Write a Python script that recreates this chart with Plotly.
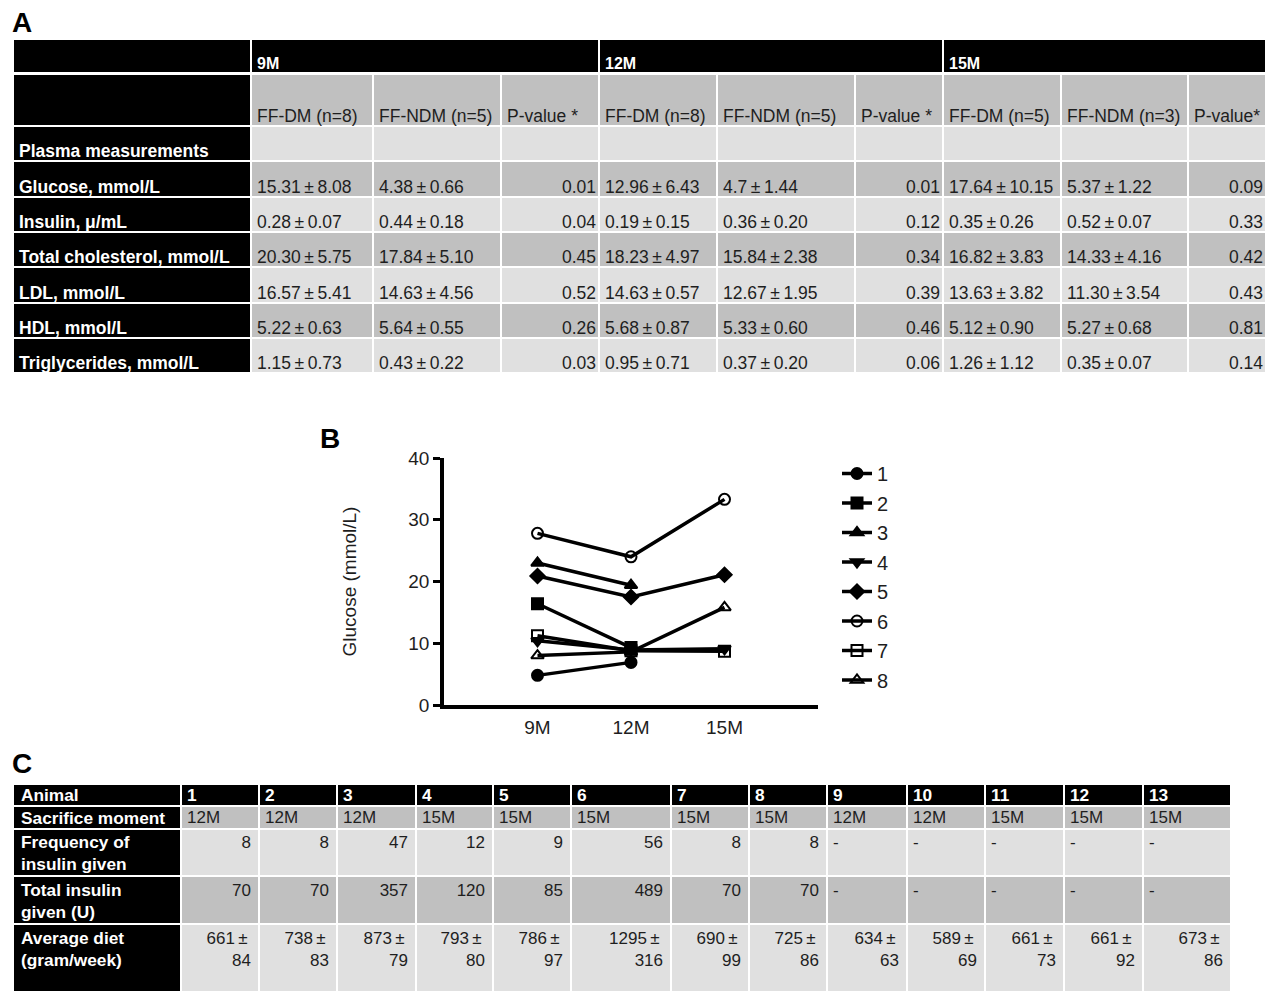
import numpy as np
import plotly.graph_objects as go

# ======================= DATA =======================
# ---- Panel A ----
group_labels = ["9M", "12M", "15M"]
sub_headers = ["FF-DM (n=8)", "FF-NDM (n=5)", "P-value *",
               "FF-DM (n=8)", "FF-NDM (n=5)", "P-value *",
               "FF-DM (n=5)", "FF-NDM (n=3)", "P-value*"]
measures = ["Plasma measurements", "Glucose, mmol/L", "Insulin, μ/mL",
            "Total cholesterol, mmol/L", "LDL, mmol/L", "HDL, mmol/L",
            "Triglycerides, mmol/L"]
dm_9m = ["", "15.31±8.08", "0.28±0.07", "20.30±5.75", "16.57±5.41", "5.22±0.63", "1.15±0.73"]
ndm_9m = ["", "4.38±0.66", "0.44±0.18", "17.84±5.10", "14.63±4.56", "5.64±0.55", "0.43±0.22"]
p_9m = ["", "0.01", "0.04", "0.45", "0.52", "0.26", "0.03"]
dm_12m = ["", "12.96±6.43", "0.19±0.15", "18.23±4.97", "14.63±0.57", "5.68±0.87", "0.95±0.71"]
ndm_12m = ["", "4.7±1.44", "0.36±0.20", "15.84±2.38", "12.67±1.95", "5.33±0.60", "0.37±0.20"]
p_12m = ["", "0.01", "0.12", "0.34", "0.39", "0.46", "0.06"]
dm_15m = ["", "17.64±10.15", "0.35±0.26", "16.82±3.83", "13.63±3.82", "5.12±0.90", "1.26±1.12"]
ndm_15m = ["", "5.37±1.22", "0.52±0.07", "14.33±4.16", "11.30±3.54", "5.27±0.68", "0.35±0.07"]
p_15m = ["", "0.09", "0.33", "0.42", "0.43", "0.81", "0.14"]

# ---- Panel B ----
timepoints = ["9M", "12M", "15M"]
animal_ids = ["1", "2", "3", "4", "5", "6", "7", "8"]
glucose = [
    [4.8, 6.9, None],
    [16.4, 9.3, None],
    [23.0, 19.4, None],
    [10.4, 8.9, 9.1],
    [20.9, 17.5, 21.1],
    [27.8, 24.0, 33.3],
    [11.2, 8.8, 8.7],
    [8.0, 8.6, 15.8],
]

# ---- Panel C ----
c_row_labels = ["Sacrifice moment", "Frequency of<br>insulin given",
                "Total insulin<br>given (U)", "Average diet<br>(gram/week)"]
animals = ["1", "2", "3", "4", "5", "6", "7", "8", "9", "10", "11", "12", "13"]
sacrifice = ["12M", "12M", "12M", "15M", "15M", "15M", "15M", "15M", "12M", "12M", "15M", "15M", "15M"]
insulin_freq = ["8", "8", "47", "12", "9", "56", "8", "8", "-", "-", "-", "-", "-"]
insulin_total = ["70", "70", "357", "120", "85", "489", "70", "70", "-", "-", "-", "-", "-"]
diet_mean = [661, 738, 873, 793, 786, 1295, 690, 725, 634, 589, 661, 661, 673]
diet_sd = [84, 83, 79, 80, 97, 316, 99, 86, 63, 69, 73, 92, 86]

# ======================= STYLE / GEOMETRY =======================
W, H = 1273, 991
BLACK, DARK, LIGHT = "#000000", "#c0c0c0", "#e0e0e0"
TXT = "#1e1e1e"
FONT = "Liberation Sans, Arial, sans-serif"
PM = "\u2009±\u2009"
CSCALE = [[0, BLACK], [0.5, DARK], [1, LIGHT]]   # 0 black, 1 dark grey, 2 light grey

# table A column widths / row heights (pixels of the page)
A_X0 = 13
a_colw = [238, 122, 128, 98, 118, 138, 88, 118, 127, 78]
a_xe = np.cumsum([A_X0] + a_colw)
a_grp_xe = [a_xe[0], a_xe[1], a_xe[4], a_xe[7], a_xe[10]]
A_GRP_Y = [40, 72]
a_row_h = [52] + [35.3] * len(measures)
a_ye = np.cumsum([74] + a_row_h)
# table C
C_X0 = 13
c_colw = [168, 78, 78, 79, 77, 78, 100, 78, 78, 80, 78, 79, 79, 88]
c_xe = np.cumsum([C_X0] + c_colw)
c_row_h = [22, 23, 47, 48, 70]
c_ye = np.cumsum([784] + c_row_h)

FS_A, FS_C = 17.5, 17.3

fig = go.Figure()


def cell_text(xs, ys, texts, positions, size, color, bold):
    fig.add_trace(go.Scatter(
        x=xs, y=ys, text=texts, mode="text", textposition=positions,
        textfont=dict(family=FONT, size=size, color=color,
                      weight="bold" if bold else "normal"),
        xaxis="x2", yaxis="y2", hoverinfo="skip", showlegend=False,
        cliponaxis=False))


# ---------------- Table A ----------------
fig.add_trace(go.Heatmap(
    x=a_grp_xe, y=A_GRP_Y, z=[[0] * 4], colorscale=CSCALE, zmin=0, zmax=2,
    showscale=False, xgap=2, hoverinfo="skip", xaxis="x2", yaxis="y2"))
data_cols_a = [dm_9m, ndm_9m, p_9m, dm_12m, ndm_12m, p_12m, dm_15m, ndm_15m, p_15m]
z_a = [[0] + [1] * len(sub_headers)]
for i in range(len(measures)):
    z_a.append([0] + [2 if i % 2 == 0 else 1] * len(sub_headers))
fig.add_trace(go.Heatmap(
    x=a_xe, y=a_ye, z=z_a, colorscale=CSCALE, zmin=0, zmax=2,
    showscale=False, xgap=2, ygap=2, hoverinfo="skip", xaxis="x2", yaxis="y2"))

# group header text
cell_text([a_grp_xe[k + 1] + 6 for k in range(len(group_labels))],
          [A_GRP_Y[1] + 1] * len(group_labels), group_labels, "top right",
          16, "white", True)
# sub headers
cell_text([a_xe[j + 1] + 6 for j in range(len(sub_headers))],
          [a_ye[1]] * len(sub_headers), sub_headers, "top right", FS_A, TXT, False)
# row labels
cell_text([A_X0 + 6] * len(measures), [a_ye[r + 2] + 0.5 for r in range(len(measures))],
          measures, "top right", FS_A, "white", True)
# values
vx, vy, vt, vp = [], [], [], []
for j, col in enumerate(data_cols_a):
    is_p = sub_headers[j].startswith("P-value")
    for r, v in enumerate(col):
        if not v:
            continue
        vx.append(a_xe[j + 2] - 3 if is_p else a_xe[j + 1] + 6)
        vy.append(a_ye[r + 2] + 0.5)
        vt.append(v.replace("±", PM))
        vp.append("top left" if is_p else "top right")
cell_text(vx, vy, vt, vp, FS_A, TXT, False)

# ---------------- Panel B ----------------
symbols = ["circle", "square", "triangle-up", "triangle-down", "diamond",
           "circle-open", "square-open", "triangle-up-open"]
for aid, vals, sym in zip(animal_ids, glucose, symbols):
    fig.add_trace(go.Scatter(
        x=timepoints, y=vals, name=aid, mode="lines+markers",
        line=dict(color="black", width=3.5),
        marker=dict(symbol=sym, size=11, color="black",
                    line=dict(color="black", width=2)),
        legendgroup=aid, xaxis="x", yaxis="y", cliponaxis=False))

# ---------------- Table C ----------------
z_c = [[0] * len(c_colw),
       [0] + [1] * len(animals),
       [0] + [2] * len(animals),
       [0] + [1] * len(animals),
       [0] + [2] * len(animals)]
fig.add_trace(go.Heatmap(
    x=c_xe, y=c_ye, z=z_c, colorscale=CSCALE, zmin=0, zmax=2,
    showscale=False, xgap=2, ygap=2, hoverinfo="skip", xaxis="x2", yaxis="y2"))

# header row (bold white)
cell_text([C_X0 + 8] + [c_xe[j + 1] + 6 for j in range(len(animals))],
          [c_ye[0] + 4] * (len(animals) + 1), ["Animal"] + animals,
          "bottom right", FS_C, "white", True)
# row labels
row_pad = [5, 6, 7, 7]
cell_text([C_X0 + 8] * len(c_row_labels),
          [c_ye[r + 1] + row_pad[r] for r in range(len(c_row_labels))],
          c_row_labels, "bottom right", FS_C, "white", True)
# body values
diet_txt = [f"{m}{PM}<br>{s}" for m, s in zip(diet_mean, diet_sd)]
cx, cy, ct, cp = [], [], [], []
for r, rowvals in enumerate([sacrifice, insulin_freq, insulin_total, diet_txt]):
    for j, v in enumerate(rowvals):
        left = (r == 0) or v == "-"
        cx.append(c_xe[j + 1] + 6 if left else c_xe[j + 2] - 8)
        cy.append(c_ye[r + 1] + row_pad[r] - (1 if r == 0 else 0))
        ct.append(v)
        cp.append("bottom right" if left else "bottom left")
cell_text(cx, cy, ct, cp, 17, TXT, False)

# ======================= LAYOUT =======================
fig.update_layout(
    template="none",
    width=W, height=H, margin=dict(l=0, r=0, t=0, b=0, pad=0),
    paper_bgcolor="white", plot_bgcolor="rgba(0,0,0,0)",
    font=dict(family=FONT, color=TXT),
    xaxis=dict(domain=[444 / W, 818 / W], type="category", range=[-1, 3],
               showline=True, linecolor="black", linewidth=3.5,
               ticks="", showgrid=False, zeroline=False, automargin=False,
               tickfont=dict(size=19, color=TXT), ticklabelstandoff=2,
               anchor="y"),
    yaxis=dict(domain=[1 - 705 / H, 1 - 458 / H], range=[0, 40],
               tickvals=[0, 10, 20, 30, 40],
               showline=True, linecolor="black", linewidth=3.5,
               ticks="outside", ticklen=7, tickwidth=3, tickcolor="black",
               showgrid=False, zeroline=False, automargin=False,
               tickfont=dict(size=19, color=TXT), anchor="x",
               title=dict(text="Glucose (mmol/L)", font=dict(size=19, color=TXT),
                          standoff=48)),
    xaxis2=dict(domain=[0, 1], range=[0, W], visible=False, anchor="y2",
                automargin=False, fixedrange=True),
    yaxis2=dict(domain=[0, 1], range=[H, 0], visible=False, anchor="x2",
                automargin=False, fixedrange=True),
    legend=dict(x=837 / W, y=1 - 454 / H, xanchor="left", yanchor="top",
                font=dict(size=20, color=TXT), tracegroupgap=0.5,
                itemwidth=30, bgcolor="rgba(0,0,0,0)"),
    showlegend=True,
    annotations=[
        dict(text="A", x=10 / W, y=1 - 22 / H, xref="paper", yref="paper",
             xanchor="left", yanchor="middle", showarrow=False,
             font=dict(size=28, color="black", weight="bold")),
        dict(text="B", x=318 / W, y=1 - 438 / H, xref="paper", yref="paper",
             xanchor="left", yanchor="middle", showarrow=False,
             font=dict(size=28, color="black", weight="bold")),
        dict(text="C", x=10 / W, y=1 - 763 / H, xref="paper", yref="paper",
             xanchor="left", yanchor="middle", showarrow=False,
             font=dict(size=28, color="black", weight="bold")),
    ],
)

fig.write_html("out.html", config={"displayModeBar": False},
               post_script="document.body.style.margin='0';")
